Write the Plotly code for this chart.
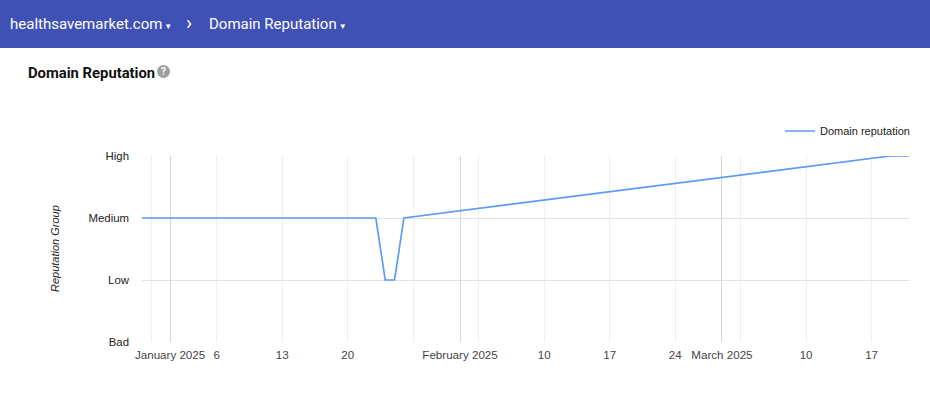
import plotly.graph_objects as go

# ---- data ----
levels = ["Bad", "Low", "Medium", "High"]
dates = [
    "2024-12-29", "2024-12-30", "2024-12-31",
    "2025-01-01", "2025-01-02", "2025-01-03", "2025-01-04", "2025-01-05",
    "2025-01-06", "2025-01-07", "2025-01-08", "2025-01-09", "2025-01-10",
    "2025-01-11", "2025-01-12", "2025-01-13", "2025-01-14", "2025-01-15",
    "2025-01-16", "2025-01-17", "2025-01-18", "2025-01-19", "2025-01-20",
    "2025-01-21", "2025-01-22", "2025-01-23", "2025-01-24", "2025-01-25",
    "2025-01-26",
    "2025-03-19", "2025-03-20", "2025-03-21",
]
reputation = [
    "Medium", "Medium", "Medium",
    "Medium", "Medium", "Medium", "Medium", "Medium",
    "Medium", "Medium", "Medium", "Medium", "Medium",
    "Medium", "Medium", "Medium", "Medium", "Medium",
    "Medium", "Medium", "Medium", "Medium", "Medium",
    "Medium", "Medium", "Medium", "Low", "Low",
    "Medium",
    "High", "High", "High",
]
week_ticks = ["2024-12-30", "2025-01-06", "2025-01-13", "2025-01-20", "2025-01-27",
              "2025-02-03", "2025-02-10", "2025-02-17", "2025-02-24", "2025-03-03",
              "2025-03-10", "2025-03-17"]
week_labels = ["", "6", "13", "20", "", "", "10", "17", "24", "", "10", "17"]
month_ticks = ["2025-01-01", "2025-02-01", "2025-03-01"]
month_labels = ["January 2025", "February 2025", "March 2025"]
x_range = ["2024-12-29", "2025-03-21"]

y_vals = [levels.index(r) for r in reputation]

# ---- geometry helpers (pixel -> paper) ----
W, H = 930, 394
L, R, T, B = 142, 909, 156, 342
def px(x):
    return (x - L) / (R - L)
def py(y):
    return (B - y) / (B - T)

fig = go.Figure()
fig.add_trace(go.Scatter(
    x=dates, y=y_vals, mode="lines", name="Domain reputation",
    line=dict(color="#5c9bf7", width=1.7), cliponaxis=False, xaxis="x", yaxis="y",
))
# invisible trace to activate month axis
fig.add_trace(go.Scatter(x=[dates[0]], y=[None], xaxis="x2", yaxis="y",
                         showlegend=False, hoverinfo="skip"))

chart_font = "Liberation Sans, Arial, sans-serif"
fig.update_layout(
    width=W, height=H,
    margin=dict(l=L, r=W - R, t=T, b=H - B),
    paper_bgcolor="white", plot_bgcolor="white",
    font=dict(family=chart_font, size=11, color="#222"),
    showlegend=True,
    legend=dict(x=px(915), xanchor="right", y=py(131), yanchor="middle",
                font=dict(family=chart_font, size=11, color="#222"),
                bgcolor="rgba(0,0,0,0)", itemwidth=30),
    xaxis=dict(type="date", range=x_range, tickmode="array",
               tickvals=week_ticks, ticktext=week_labels,
               showgrid=True, gridcolor="#eeeeee", gridwidth=1,
               showline=False, zeroline=False, ticks="",
               tickfont=dict(size=11.6, color="#444"), ticklabelstandoff=4),
    xaxis2=dict(type="date", range=x_range, overlaying="x", side="bottom",
                matches="x", tickmode="array",
                tickvals=month_ticks, ticktext=month_labels,
                showgrid=True, gridcolor="#d6d6d6", gridwidth=1,
                showline=False, zeroline=False, ticks="",
                tickfont=dict(size=11.6, color="#444"), ticklabelstandoff=4),
    yaxis=dict(range=[0, 3], tickmode="array", tickvals=[0, 1, 2, 3],
               ticktext=levels, showgrid=True, gridcolor="#e3e3e3",
               zeroline=False, showline=False, ticks="",
               tickfont=dict(size=11.4, color="#222"), ticklabelstandoff=12),
)

shapes = [
    # header bar
    dict(type="rect", xref="paper", yref="paper", x0=px(0), x1=px(W),
         y0=py(0), y1=py(48), fillcolor="#3f51b5", line=dict(width=0), layer="above"),
    # help icon circle
    dict(type="circle", xref="paper", yref="paper", x0=px(157), x1=px(170),
         y0=py(65), y1=py(78), fillcolor="#9e9e9e", line=dict(width=0), layer="above"),
]
fig.update_layout(shapes=shapes)

caret = "<span style='font-size:8px'> ▼</span>"
annotations = [
    dict(text="healthsavemarket.com" + caret, x=px(8), y=py(24), xanchor="left", yanchor="middle",
         font=dict(family="Roboto", size=15, color="white")),
    dict(text="›", x=px(189), y=py(23), xanchor="center", yanchor="middle",
         font=dict(family="Roboto", size=20, color="white")),
    dict(text="Domain Reputation" + caret, x=px(207), y=py(24), xanchor="left", yanchor="middle",
         font=dict(family="Roboto", size=15, color="white")),
    dict(text="<b>Domain Reputation</b>", x=px(26), y=py(73), xanchor="left", yanchor="middle",
         font=dict(family="Roboto", size=14.8, color="#111")),
    dict(text="<b>?</b>", x=px(163.5), y=py(71.5), xanchor="center", yanchor="middle",
         font=dict(family="Roboto", size=10, color="white")),
    dict(text="<i>Reputation Group</i>", x=px(55), y=py(249), xanchor="center", yanchor="middle",
         textangle=-90, font=dict(family=chart_font, size=11, color="#222")),
]
for a in annotations:
    a.update(xref="paper", yref="paper", showarrow=False)
fig.update_layout(annotations=annotations)

fig.write_html("out.html", config={"displayModeBar": False},
               post_script="document.body.style.margin='0';document.body.style.padding='0';")
